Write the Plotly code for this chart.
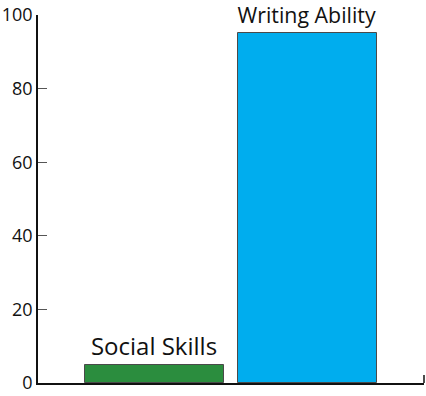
import plotly.graph_objects as go

categories = ["Social Skills", "Writing Ability"]
values = [5, 95]
colors = ["#2b8d3e", "#00adee"]
y_ticks = [0, 20, 40, 60, 80, 100]

positions = list(range(len(categories)))

fig = go.Figure()
fig.add_trace(go.Bar(
    x=positions, y=values, width=0.903,
    marker=dict(color=colors, line=dict(color="#4a4a4a", width=1)),
    text=categories, textposition="outside",
    textfont=dict(size=24, color="#111", family="Open Sans"),
    cliponaxis=False, hoverinfo="skip",
))

fig.update_layout(
    width=426, height=396,
    margin=dict(l=35, r=2, t=15, b=11),
    paper_bgcolor="white", plot_bgcolor="white",
    showlegend=False,
    font=dict(family="Open Sans", color="#111"),
    bargap=0,
)
# small upward end tick at the right end of the x axis
fig.add_shape(type="line", xref="paper", yref="paper", x0=1, x1=1, y0=0, y1=0.022,
              line=dict(color="#111", width=1.5))
fig.update_xaxes(
    range=[-0.755, 1.755], showgrid=False, zeroline=False,
    showline=True, linecolor="#111", linewidth=1.5,
    showticklabels=False, ticks="",
)
fig.update_yaxes(
    range=[0, 100], showgrid=False, zeroline=False,
    showline=True, linecolor="#111", linewidth=1.5,
    tickvals=y_ticks, ticktext=[str(v) for v in y_ticks],
    ticks="inside", ticklen=9, tickcolor="#555", tickwidth=1,
    ticklabeloverflow="allow",
    tickfont=dict(size=18, color="#111", family="Open Sans"),
)

fig.write_html("out.html", config={"displayModeBar": False},
               post_script="document.body.style.margin='0';")
